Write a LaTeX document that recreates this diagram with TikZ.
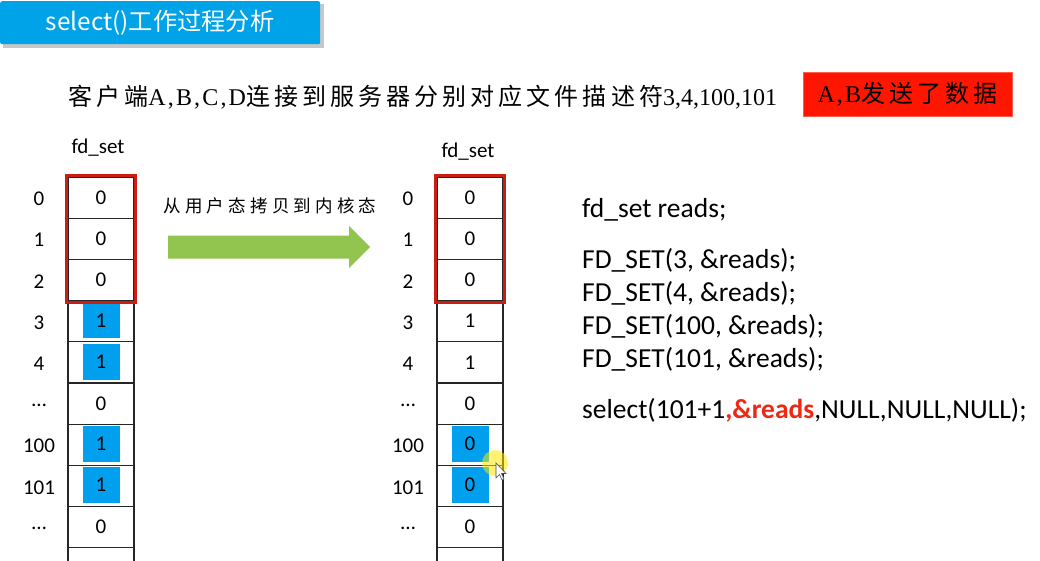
\documentclass[tikz,border=0pt]{standalone}
\usepackage{fontspec}
\setmainfont{Carlito}
\newfontfamily\cjk{Noto Sans CJK SC}
\newfontfamily\cjkwide[LetterSpace=17]{Noto Sans CJK SC}
\newfontfamily\cjkarrow[LetterSpace=24]{Noto Sans CJK SC}
\newfontfamily\timesfont{Liberation Serif}
\newfontfamily\timeswide[LetterSpace=9]{Liberation Serif}
\usepackage{xcolor}
\definecolor{titleblue}{RGB}{0,162,232}
\definecolor{cellblue}{RGB}{0,160,238}
\definecolor{framered}{RGB}{200,30,20}
\definecolor{boxred}{RGB}{255,22,0}
\definecolor{codered}{RGB}{238,40,20}
\definecolor{arrowgreen}{RGB}{146,196,80}
\usetikzlibrary{positioning,fit}

\begin{document}
\begin{tikzpicture}[x=1pt,y=-1pt,
  cell/.style={draw=black!85,line width=1.2pt,minimum width=66pt,minimum height=41.2pt,inner sep=0pt},
  val/.style={font=\fontsize{21}{24}\selectfont,inner sep=0pt},
  hlval/.style={val,fill=cellblue,minimum width=37pt,minimum height=36pt,yshift=0.8pt},
  idx/.style={font=\fontsize{21}{24}\selectfont,inner sep=0pt},
  redframe/.style={draw=framered,line width=3pt,inner sep=1pt},
  code/.style={font=\fontsize{27.5}{33}\selectfont,anchor=west,align=left,inner sep=0pt}]
  \clip (0,0) rectangle (1040,560);
  \fill[white] (0,0) rectangle (1040,560);

  % title bar
  \fill[black!22] (3,4) rectangle (324,48);
  \node[fill=titleblue,rounded corners=2pt,minimum width=320pt,minimum height=43pt,anchor=north west,
    text=white,font=\cjk\fontsize{24.3}{27}\selectfont] (title) at (0,1) {select()工作过程分析};

  % description line
  \node[anchor=west,inner sep=0pt,font=\fontsize{24}{28}\selectfont] (intro) at (68,97)
    {{\cjkwide 客户端}{\timeswide A,B,C,D}{\cjkwide 连接到服务器分别对应文件描述符}{\timesfont 3,4,100,101}};
  \node[fill=boxred,draw=boxred!70,minimum width=209pt,minimum height=44pt,inner sep=0pt,
    font=\fontsize{24}{28}\selectfont] (sent) at (907.5,94.5) {{\timeswide A,B}{\cjkwide 发送了数据}};

  % the two fd_set arrays
  \foreach \num/\lv/\ls/\rv/\rs [count=\n from 0] in
    {0/0/val/0/val, 1/0/val/0/val, 2/0/val/0/val, 3/1/hlval/1/val, 4/1/hlval/1/val,
     \dots/0/val/0/val, 100/1/hlval/0/hlval, 101/1/hlval/0/hlval, \dots/0/val/0/val} {
    \node[cell] (l\n) at (101,197.6+41.2*\n) {};
    \node[\ls] (lv\n) at (l\n) {\lv};
    \node[idx] (li\n) at (39,199+41.2*\n) {\num};
    \node[cell] (r\n) at (470,197.6+41.2*\n) {};
    \node[\rs] (rv\n) at (r\n) {\rv};
    \node[idx] (ri\n) at (408,199+41.2*\n) {\num};
  }
  \node[cell] (l9) at (101,197.6+41.2*9) {};
  \node[cell] (r9) at (470,197.6+41.2*9) {};
  \node[idx] (lname) at (98,148) {fd\_set};
  \node[idx] (rname) at (468,152) {fd\_set};
  \node[redframe,fit=(l0)(l2)] (lframe) {};
  \node[redframe,fit=(r0)(r2)] (rframe) {};

  % copy into kernel
  \fill[arrowgreen] (168,235.5) -- (349,235.5) -- (349,226) -- (370,247) -- (349,268)
    -- (349,258.5) -- (168,258.5) -- cycle;
  \node[font=\cjkarrow\fontsize{17.5}{20}\selectfont,inner sep=0pt] (copy) at (270,206) {从用户态拷贝到内核态};

  % code
  \node[code] (decl) at (582,210) {fd\_set reads;};
  \node[code] (sets) at (582,309.5) {FD\_SET(3, \&reads);\\FD\_SET(4, \&reads);\\FD\_SET(100, \&reads);\\FD\_SET(101, \&reads);};
  \node[code] (call) at (582,410) {select(101+1\textcolor{codered}{\textbf{,\&reads}},NULL,NULL,NULL);};

  % mouse pointer
  \fill[yellow!90!orange,opacity=0.55] (495,463) circle (13);
  \filldraw[fill=white,draw=black!70,line width=0.6pt] (496,463) -- (496,478) -- (499.5,474.5)
    -- (502,480) -- (504,479) -- (501.5,473.5) -- (506,473.5) -- cycle;
\end{tikzpicture}
\end{document}
